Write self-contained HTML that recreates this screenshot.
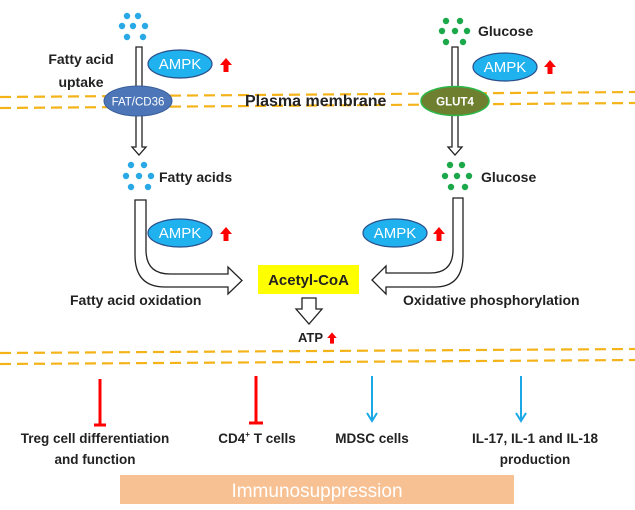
<!DOCTYPE html>
<html><head><meta charset="utf-8"><style>
html,body{margin:0;padding:0;background:#fff}
svg{display:block}
text{font-family:"Liberation Sans",sans-serif;font-weight:bold;fill:#222}
</style></head><body>
<svg width="635" height="510" viewBox="0 0 635 510">
<defs>
<g id="up"><polygon points="0,-7 6,0 2.5,0 2.5,7 -2.5,7 -2.5,0 -6,0" fill="#f00"/></g>
</defs>
<g stroke="#f5b31a" stroke-width="2.2" stroke-dasharray="11,6" fill="none">
<line x1="0" y1="97" x2="635" y2="92"/>
<line x1="0" y1="108" x2="635" y2="103"/>
<line x1="0" y1="353" x2="635" y2="349"/>
<line x1="0" y1="364" x2="635" y2="360"/>
</g>
<g fill="#29a8e6">
<circle cx="127" cy="16" r="3.2"/><circle cx="138" cy="16" r="3.2"/>
<circle cx="122" cy="26" r="3.2"/><circle cx="133" cy="26" r="3.2"/><circle cx="145" cy="26" r="3.2"/>
<circle cx="127" cy="37" r="3.2"/><circle cx="143" cy="37" r="3.2"/>
<circle cx="131" cy="165" r="3.2"/><circle cx="144" cy="165" r="3.2"/>
<circle cx="126" cy="176" r="3.2"/><circle cx="139" cy="176" r="3.2"/><circle cx="151" cy="176" r="3.2"/>
<circle cx="131" cy="187" r="3.2"/><circle cx="148" cy="187" r="3.2"/>
</g>
<g fill="#1aa84a">
<circle cx="446" cy="21" r="3.2"/><circle cx="460" cy="21" r="3.2"/>
<circle cx="442" cy="31" r="3.2"/><circle cx="455" cy="31" r="3.2"/><circle cx="467" cy="31" r="3.2"/>
<circle cx="446" cy="42" r="3.2"/><circle cx="463" cy="42" r="3.2"/>
<circle cx="450" cy="165" r="3.2"/><circle cx="462" cy="165" r="3.2"/>
<circle cx="445" cy="176" r="3.2"/><circle cx="457" cy="176" r="3.2"/><circle cx="469" cy="176" r="3.2"/>
<circle cx="451" cy="187" r="3.2"/><circle cx="465" cy="187" r="3.2"/>
</g>
<g fill="#fff" stroke="#222" stroke-width="1.3">
<polygon points="136,47 142,47 142,147 146,147 139,155 132,147 136,147"/>
<polygon points="452,47 458,47 458,147 462,147 455,155 448,147 452,147"/>
<path d="M135,200 L146,200 L146,250 Q146,274 170,274 L228,274 L228,267 L242,280.5 L228,294 L228,287 L165,287 Q135,287 135,255 Z"/>
<path d="M463,198 L453,198 L453,250 Q453,273 430,273 L386,273 L386,266 L372,280 L386,294 L386,287 L435,287 Q463,287 463,255 Z"/>
<polygon points="302,298 316,298 316,309 322,309 309,324 296,309 302,309"/>
</g>
<ellipse cx="138" cy="101" rx="34" ry="15" fill="#4c76b8" stroke="#3a5f9a"/>
<text x="138" y="105.5" font-size="11.5" text-anchor="middle" style="fill:#fff;font-weight:normal">FAT/CD36</text>
<ellipse cx="455" cy="101" rx="34" ry="14.5" fill="#6e7f30" stroke="#2db84a" stroke-width="1.5"/>
<text x="455" y="105.5" font-size="11.5" text-anchor="middle" style="fill:#fff">GLUT4</text>
<g fill="#1fb2ee" stroke="#2a4e8a" stroke-width="1.2">
<ellipse cx="180" cy="64" rx="32" ry="14"/>
<ellipse cx="505" cy="67" rx="32" ry="14"/>
<ellipse cx="180" cy="233" rx="32" ry="14"/>
<ellipse cx="395" cy="233" rx="32" ry="14"/>
</g>
<g font-size="15" text-anchor="middle">
<text x="180" y="69" style="fill:#fff;font-weight:normal">AMPK</text>
<text x="505" y="72" style="fill:#fff;font-weight:normal">AMPK</text>
<text x="180" y="238" style="fill:#fff;font-weight:normal">AMPK</text>
<text x="395" y="238" style="fill:#fff;font-weight:normal">AMPK</text>
</g>
<use href="#up" x="226" y="65"/>
<use href="#up" x="550" y="67"/>
<use href="#up" x="226" y="234"/>
<use href="#up" x="439" y="234"/>
<use href="#up" transform="translate(332,338) scale(0.8)"/>
<g font-size="14">
<text x="81" y="64" text-anchor="middle">Fatty acid</text>
<text x="81" y="87" text-anchor="middle">uptake</text>
<text x="245" y="106" font-size="16">Plasma membrane</text>
<text x="159" y="182">Fatty acids</text>
<text x="478" y="36">Glucose</text>
<text x="481" y="182">Glucose</text>
<text x="70" y="305" font-size="14">Fatty acid oxidation</text>
<text x="403" y="305" font-size="14">Oxidative phosphorylation</text>
</g>
<rect x="258" y="265" width="101" height="29" fill="#ffff00"/>
<text x="308.5" y="285" font-size="15" text-anchor="middle">Acetyl-CoA</text>
<text x="298" y="342" font-size="13">ATP</text>
<g stroke="#f00" stroke-width="3">
<line x1="100" y1="379" x2="100" y2="425"/><line x1="94" y1="425" x2="106" y2="425"/>
<line x1="256" y1="376" x2="256" y2="423"/><line x1="249" y1="423" x2="263" y2="423"/>
</g>
<g stroke="#1aa8e6" stroke-width="2" fill="none">
<line x1="372" y1="376" x2="372" y2="421"/><polyline points="367,413 372,421 377,413"/>
<line x1="521" y1="376" x2="521" y2="421"/><polyline points="516,413 521,421 526,413"/>
</g>
<g font-size="13.5" text-anchor="middle">
<text x="95" y="443">Treg cell differentiation</text>
<text x="95" y="464">and function</text>
<text x="257" y="443">CD4<tspan font-size="8" dy="-6">+</tspan><tspan dy="6"> T cells</tspan></text>
<text x="372" y="443">MDSC cells</text>
<text x="535" y="443">IL-17, IL-1 and IL-18</text>
<text x="535" y="464">production</text>
</g>
<rect x="120" y="475" width="394" height="29" fill="#f8c193"/>
<text x="317" y="497" font-size="19" text-anchor="middle" style="fill:#fff;font-weight:normal">Immunosuppression</text>
</svg>
</body></html>
